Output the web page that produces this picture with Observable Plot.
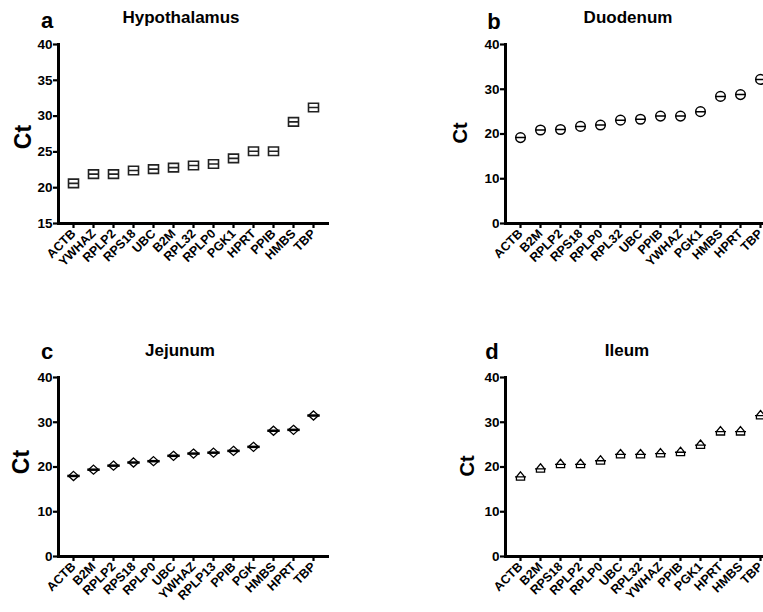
<!DOCTYPE html>
<html>
<head>
<meta charset="utf-8">
<script src="https://cdn.jsdelivr.net/npm/d3@7"></script>
<script src="https://cdn.jsdelivr.net/npm/@observablehq/plot@0.6"></script>
<style>
  html, body { margin: 0; padding: 0; background: #fff; }
  body { width: 763px; height: 612px; overflow: hidden; position: relative; font-family: "Liberation Sans", Arial, sans-serif; }
  .panel { position: absolute; }
  .lbl { position: absolute; font-weight: bold; color: #000; white-space: nowrap; line-height: 1; }
  svg.panel text { font-weight: bold; fill: #000; font-size: 12.5px; }
  svg.panel g[aria-label*="y-axis"] text { font-size: 13.5px; }
</style>
</head>
<body>
<div id="root"></div>
<script>
// ---- Data ----
const hypoGenes = ["ACTB","YWHAZ","RPLP2","RPS18","UBC","B2M","RPL32","RPLP0","PGK1","HPRT","PPIB","HMBS","TBP"];
const hypoCt    = [20.6, 21.9, 21.9, 22.4, 22.6, 22.8, 23.1, 23.3, 24.1, 25.1, 25.1, 29.2, 31.2];

const duoGenes = ["ACTB","B2M","RPLP2","RPS18","RPLP0","RPL32","UBC","PPIB","YWHAZ","PGK1","HMBS","HPRT","TBP"];
const duoCt    = [19.2, 20.9, 21.0, 21.7, 22.0, 23.1, 23.3, 24.0, 24.0, 25.0, 28.4, 28.8, 32.2];

const jejGenes = ["ACTB","B2M","RPLP2","RPS18","RPLP0","UBC","YWHAZ","RPLP13","PPIB","PGK","HMBS","HPRT","TBP"];
const jejCt    = [18.0, 19.4, 20.3, 21.0, 21.3, 22.5, 23.0, 23.2, 23.6, 24.5, 28.1, 28.3, 31.5];

const ileGenes = ["ACTB","B2M","RPS18","RPLP2","RPLP0","UBC","RPL32","YWHAZ","PPIB","PGK1","HPRT","HMBS","TBP"];
const ileCt    = [17.8, 19.6, 20.6, 20.6, 21.4, 22.8, 22.8, 23.0, 23.3, 24.9, 27.9, 27.9, 31.5];

const yTicksA = [15, 20, 25, 30, 35, 40];
const yTicksB = [0, 10, 20, 30, 40];

// ---- Custom symbols ----
const rOf = size => Math.sqrt(size / Math.PI);
const squareLine = { draw(c, size) { const r = rOf(size), h = r * 0.85;
  c.moveTo(-r, -h); c.lineTo(r, -h); c.lineTo(r, h); c.lineTo(-r, h); c.closePath();
  c.moveTo(-r, 0); c.lineTo(r, 0); } };
const circleLine = { draw(c, size) { const r = rOf(size);
  c.moveTo(r, 0); c.arc(0, 0, r, 0, 2 * Math.PI); c.closePath();
  c.moveTo(-r, 0); c.lineTo(r, 0); } };
const diamond = { draw(c, size) { const r = rOf(size);
  c.moveTo(0, -r * 0.95); c.lineTo(r * 1.05, 0); c.lineTo(0, r * 0.95); c.lineTo(-r * 1.05, 0); c.closePath(); } };
const hline = { draw(c, size) { const r = rOf(size);
  c.moveTo(-r, 0); c.lineTo(r, 0); } };
const triBox = { draw(c, size) { const r = rOf(size);
  c.moveTo(0, -r * 1.05); c.lineTo(r * 0.85, 0); c.lineTo(-r * 0.85, 0); c.closePath();
  c.moveTo(-r * 0.85, 0); c.lineTo(r * 0.85, 0); c.lineTo(r * 0.85, r * 0.7); c.lineTo(-r * 0.85, r * 0.7); c.closePath();
  c.moveTo(-r * 1.15, 0); c.lineTo(r * 1.15, 0); } };

function panel({genes, values, domain, ticks, marks}) {
  const data = genes.map((g, i) => ({gene: g, ct: values[i]}));
  return Plot.plot({
    width: 380, height: 300,
    marginLeft: 58, marginRight: 53, marginTop: 44, marginBottom: 77,
    style: {fontFamily: "'Liberation Sans', Arial, sans-serif", fontWeight: "bold", fontSize: "12.5px", color: "#000", background: "transparent", overflow: "visible"},
    x: {domain: genes, type: "point", padding: 0.5, label: null},
    y: {domain, label: null},
    marks: [
      Plot.axisY({ticks, tickSize: 5, tickPadding: 1, strokeWidth: 2.2, fill: "#000", stroke: "#000"}),
      Plot.axisX({tickRotate: -45, tickSize: 5, tickPadding: 3, strokeWidth: 2.2, fill: "#000", stroke: "#000"}),
      Plot.frame({anchor: "left", stroke: "#000", strokeWidth: 3}),
      Plot.frame({anchor: "bottom", stroke: "#000", strokeWidth: 3}),
      ...marks(data)
    ]
  });
}

const root = document.getElementById("root");
function place(el, left, top) { el.classList.add("panel"); el.style.left = left + "px"; el.style.top = top + "px"; root.appendChild(el); }
function text(str, x, y, size, opts = {}) {
  const d = document.createElement("div"); d.className = "lbl"; d.textContent = str;
  d.style.fontSize = size + "px";
  d.style.left = x + "px"; d.style.top = y + "px";
  d.style.transform = opts.rotate ? "translate(-50%,-50%) rotate(-90deg)" : "translate(-50%,-50%)";
  root.appendChild(d);
}

place(panel({genes: hypoGenes, values: hypoCt, domain: [15, 40], ticks: yTicksA,
  marks: d => [Plot.dot(d, {x: "gene", y: "ct", symbol: squareLine, r: 5, fill: "#fff", stroke: "#222", strokeWidth: 1.6})]}), 0, 0);

place(panel({genes: duoGenes, values: duoCt, domain: [0, 40], ticks: yTicksB,
  marks: d => [Plot.dot(d, {x: "gene", y: "ct", symbol: circleLine, r: 4.8, fill: "#fff", stroke: "#000", strokeWidth: 1.5})]}), 447, 0);

place(panel({genes: jejGenes, values: jejCt, domain: [0, 40], ticks: yTicksB,
  marks: d => [
    Plot.dot(d, {x: "gene", y: "ct", symbol: diamond, r: 4.8, fill: "#fff", stroke: "#000", strokeWidth: 1.3}),
    Plot.dot(d, {x: "gene", y: "ct", symbol: hline, r: 6.2, stroke: "#000", strokeWidth: 2.5})
  ]}), 0, 333);

place(panel({genes: ileGenes, values: ileCt, domain: [0, 40], ticks: yTicksB,
  marks: d => [Plot.dot(d, {x: "gene", y: "ct", symbol: triBox, r: 4.8, fill: "#fff", stroke: "#000", strokeWidth: 1.3})]}), 447, 333);

// titles and panel letters
text("a", 47, 21, 22);
text("Hypothalamus", 181, 17, 17);
text("b", 494, 22, 22);
text("Duodenum", 628, 17, 17);
text("c", 47, 352, 22);
text("Jejunum", 180, 350, 17);
text("d", 492, 352, 22);
text("Ileum", 627, 350, 17);
// y labels
text("Ct", 23, 137, 23, {rotate: true});
text("Ct", 460, 133, 20, {rotate: true});
text("Ct", 21, 462, 23, {rotate: true});
text("Ct", 467, 466, 20, {rotate: true});
</script>
</body>
</html>
